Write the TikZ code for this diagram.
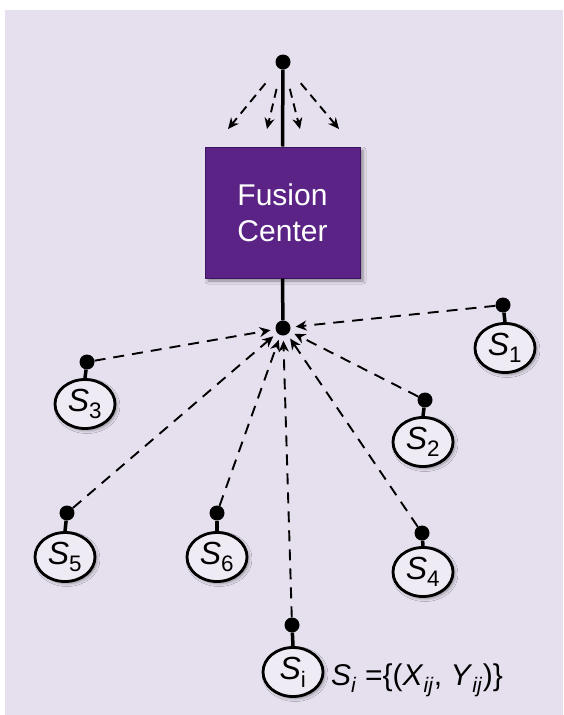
\documentclass[tikz,border=0pt]{standalone}
\usepackage{fontspec}
\setmainfont{Liberation Sans}
\usetikzlibrary{arrows.meta,shapes.geometric,shadows.blur}
\definecolor{bgpanel}{HTML}{E6E0EE}
\definecolor{fcpurple}{HTML}{5B2386}
\definecolor{fcedge}{HTML}{3E1560}
\begin{document}
\begin{tikzpicture}[x=1pt,y=-1pt,
  fusionbox/.style={draw=fcedge, line width=1pt, fill=fcpurple, text=white,
    minimum width=155pt, minimum height=131pt, align=center,
    font=\fontsize{30}{36}\selectfont,
    blur shadow={shadow xshift=3pt, shadow yshift=-3pt, shadow blur radius=3pt}},
  sensor/.style={ellipse, draw=black, line width=2.8pt, fill=white!35!bgpanel,
    minimum width=60pt, minimum height=49pt, inner sep=0pt,
    font=\fontsize{32}{34}\selectfont,
    blur shadow={shadow xshift=2pt, shadow yshift=-2pt, shadow blur radius=3pt}},
  blob/.style={circle, fill=black, minimum size=15pt, inner sep=0pt},
  stem/.style={line width=3.5pt},
  trunk/.style={line width=3.5pt},
  conn/.style={line width=1.9pt, dash pattern=on 11pt off 8pt,
    -{Stealth[length=11pt,width=10pt]}, shorten >=5pt},
  spread/.style={line width=1.9pt, dash pattern=on 9pt off 6pt,
    -{Stealth[length=11pt,width=10pt]}, shorten <=20pt}
]
% panel
\fill[white] (0,0) rectangle (563,715);
\fill[bgpanel] (5,10) rectangle (563,715);

% fusion center with its output point
\node[fusionbox] (fc) at (282.5,212.5) {Fusion\\Center};
\node[blob] (top) at (283,62) {};
\node[blob] (hub) at (283,328) {};
\draw[trunk] (top) -- (fc.north);
\draw[trunk] (fc.south) -- (hub);

% broadcast from the output point
\coordinate (t1) at (228,129);
\coordinate (t2) at (267,129);
\coordinate (t3) at (300,129);
\coordinate (t4) at (339,129);
\foreach \t in {t1,t2,t3,t4}
  \draw[spread] (top) -- (\t);

% sensors
\newcommand\sensorlabel[1]{\textit{S}\textsubscript{#1}}
\foreach \n/\ex/\ey/\dx/\dy/\lab in {
    1/505/348/503/305/1,
    2/423/442/425/400/2,
    3/85/404/87/362/3,
    4/423/572/422/533/4,
    5/65/557/67/513/5,
    6/217/557/217/513/6,
    i/293/672/292/625/i}{
  \node[sensor] (s\n) at (\ex,\ey) {\sensorlabel{\lab}};
  \node[blob] (d\n) at (\dx,\dy) {};
  \draw[stem] (d\n) -- (s\n.north);
  \draw[conn] (d\n) -- (hub);
}

% observation set of a sensor
\node[anchor=west, inner sep=0pt, font=\fontsize{30}{32}\selectfont] (obs) at (331,680)
  {\textit{S}\textsubscript{\textit{i}} =\{(\textit{X}\textsubscript{\textit{ij}}, \textit{Y}\textsubscript{\textit{ij}})\}};
\end{tikzpicture}
\end{document}
